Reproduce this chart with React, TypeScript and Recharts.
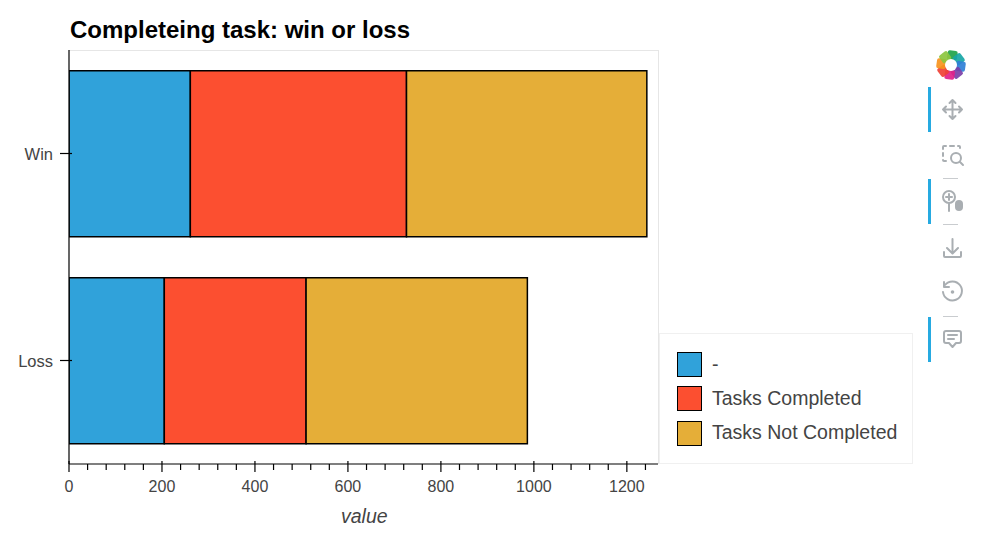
import React from "react";
import { Bar, BarChart, XAxis, YAxis } from "recharts";

const categories = ["Win", "Loss"];
const blankValues = [261, 205];
const completedValues = [465, 305];
const notCompletedValues = [517, 476];
const majorTicks = [0, 200, 400, 600, 800, 1000, 1200];
const minorTicks = [40, 80, 120, 160, 240, 280, 320, 360, 440, 480, 520, 560, 640, 680, 720, 760, 840, 880, 920, 960, 1040, 1080, 1120, 1160, 1240];
const seriesNames = ["-", "Tasks Completed", "Tasks Not Completed"];
const seriesColors = ["#30a2da", "#fc4f30", "#e5ae38"];
const logoColors = ["#1fa34a", "#17a6a6", "#2f7fd6", "#7b3fa8", "#e0218a", "#ef4136", "#f7941d", "#8cc63f"];

const data = categories.map((name, i) => ({
  name,
  blank: blankValues[i],
  completed: completedValues[i],
  notCompleted: notCompletedValues[i],
}));

const FONT = "'Liberation Sans', Arial, sans-serif";
const ICON = "#a9aeb2";

function XTick({ x, y, payload }: any) {
  const major = majorTicks.includes(payload.value);
  return (
    <g>
      <line x1={x} x2={x} y1={major ? y - 3 : y} y2={major ? y + 8 : y + 6} stroke="#000" strokeWidth={1.2} />
      {major && (
        <text x={x} y={y + 28} textAnchor="middle" fontSize={16} fontFamily={FONT} fill="#444">
          {payload.value}
        </text>
      )}
    </g>
  );
}

function YTick({ x, y, payload }: any) {
  return (
    <g>
      <line x1={x - 9} x2={x + 3} y1={y} y2={y} stroke="#000" strokeWidth={1.2} />
      <text x={x - 16} y={y + 6} textAnchor="end" fontSize={16.5} fontFamily={FONT} fill="#444">
        {payload.value}
      </text>
    </g>
  );
}

function Logo() {
  return (
    <svg width={32} height={32} viewBox="-16 -16 32 32" style={{ position: "absolute", left: 935, top: 49 }}>
      {logoColors.map((color, i) => (
        <rect key={i} x={-5} y={-14.5} width={10} height={9.5} rx={2} fill={color} opacity={0.92} transform={`rotate(${i * 45 + 8})`} />
      ))}
      <circle r={6} fill="#fff" />
    </svg>
  );
}

function Toolbar() {
  const stroke = { fill: "none", stroke: ICON, strokeWidth: 2, strokeLinecap: "round" as const, strokeLinejoin: "round" as const };
  return (
    <>
      <Logo />
      {[87, 179, 317].map((top) => (
        <div key={top} style={{ position: "absolute", left: 928, top, width: 3, height: 45, background: "#26aae1" }} />
      ))}
      {[178, 224, 316].map((top) => (
        <div key={top} style={{ position: "absolute", left: 943, top, width: 15, height: 1, background: "#c9cccf" }} />
      ))}
      <svg width={62} height={330} style={{ position: "absolute", left: 920, top: 40 }}>
        {/* pan */}
        <path d="M32.5 60V79M23 69.5H42M32.5 60l-3 3M32.5 60l3 3M32.5 79l-3-3M32.5 79l3-3M26 66.5l-3 3 3 3M39 66.5l3 3-3 3" {...stroke} />
        {/* box zoom */}
        <path d="M26 106h-2a1 1 0 0 0-1 1v2M30 106h4M38 106h1a1 1 0 0 1 1 1v1M23 113v3M23 120a1 1 0 0 0 1 1h2" {...stroke} />
        <circle cx={36} cy={118} r={5} {...stroke} />
        <path d="M40 122l3 3" {...stroke} />
        {/* wheel zoom */}
        <circle cx={29} cy={157} r={6} {...stroke} />
        <path d="M26 157h6M29 154v6M29 163v8" {...stroke} />
        <rect x={35} y={160} width={8} height={11} rx={4} fill={ICON} />
        {/* save */}
        <path d="M32.5 199v14M27 208l5.5 5.5 5.5-5.5M24 212v4a1 1 0 0 0 1 1h15a1 1 0 0 0 1-1v-4" {...stroke} />
        {/* reset */}
        <path d="M25 245a9.5 9.5 0 1 1-2 7M24 242v5h5" {...stroke} />
        <circle cx={32.5} cy={252} r={1.8} fill={ICON} />
        {/* hover */}
        <path d="M26 291h13a2 2 0 0 1 2 2v8a2 2 0 0 1-2 2h-3l-3.5 4-3.5-4h-3a2 2 0 0 1-2-2v-8a2 2 0 0 1 2-2zM28 295h9M28 299h6" {...stroke} />
      </svg>
    </>
  );
}

function LegendBox() {
  const rows = [352, 386, 421];
  const textRows = [352, 386, 420];
  return (
    <div
      style={{
        position: "absolute",
        left: 659,
        top: 333,
        width: 254,
        height: 131,
        boxSizing: "border-box",
        background: "#fff",
        border: "1px solid #f0f0f0",
      }}
    >
      {seriesNames.map((name, i) => (
        <React.Fragment key={name}>
          <div
            style={{
              position: "absolute",
              left: 17,
              top: rows[i] - 334,
              width: 25,
              height: 25,
              boxSizing: "border-box",
              background: seriesColors[i],
              border: "1.5px solid #000",
            }}
          />
          <div
            style={{
              position: "absolute",
              left: 52,
              top: textRows[i] - 334,
              height: 25,
              lineHeight: "25px",
              fontSize: 19.5,
              fontFamily: FONT,
              color: "#444",
              whiteSpace: "nowrap",
            }}
          >
            {name}
          </div>
        </React.Fragment>
      ))}
    </div>
  );
}

export default function App() {
  return (
    <div style={{ position: "absolute", left: 0, top: 0, width: 982, height: 536, background: "#fff", overflow: "hidden" }}>
      <div
        style={{
          position: "absolute",
          left: 69,
          top: 50,
          width: 590,
          height: 414,
          borderTop: "1px solid #e6e6e6",
          borderRight: "1px solid #e6e6e6",
          boxSizing: "border-box",
        }}
      />
      <div style={{ position: "absolute", left: 70, top: 16, fontSize: 24, lineHeight: "28px", fontWeight: 700, fontFamily: FONT, color: "#000", whiteSpace: "nowrap" }}>
        Completeing task: win or loss
      </div>
      <div style={{ position: "absolute", left: 341, top: 505, fontSize: 19.5, lineHeight: "22px", fontStyle: "italic", fontFamily: FONT, color: "#444" }}>value</div>
      <div style={{ position: "absolute", left: 0, top: 0 }}>
        <BarChart
          width={982}
          height={536}
          data={data}
          layout="vertical"
          barCategoryGap="10%"
          margin={{ top: 50, right: 324, bottom: 0, left: 0 }}
          style={{ background: "transparent" }}
        >
          <XAxis
            type="number"
            domain={[0, 1267]}
            ticks={[...majorTicks, ...minorTicks].sort((a, b) => a - b)}
            interval={0}
            height={72}
            tick={<XTick />}
            tickLine={false}
            tickSize={0}
            tickMargin={0}
            axisLine={{ stroke: "#000", strokeWidth: 1.2 }}
            allowDataOverflow
          />
          <YAxis
            type="category"
            dataKey="name"
            width={69}
            tick={<YTick />}
            tickLine={false}
            tickSize={0}
            tickMargin={0}
            axisLine={{ stroke: "#000", strokeWidth: 1.2 }}
          />
          <Bar dataKey="blank" name={seriesNames[0]} stackId="a" fill={seriesColors[0]} stroke="#000" strokeWidth={1.5} isAnimationActive={false} />
          <Bar dataKey="completed" name={seriesNames[1]} stackId="a" fill={seriesColors[1]} stroke="#000" strokeWidth={1.5} isAnimationActive={false} />
          <Bar dataKey="notCompleted" name={seriesNames[2]} stackId="a" fill={seriesColors[2]} stroke="#000" strokeWidth={1.5} isAnimationActive={false} />
        </BarChart>
      </div>
      <LegendBox />
      <Toolbar />
    </div>
  );
}
